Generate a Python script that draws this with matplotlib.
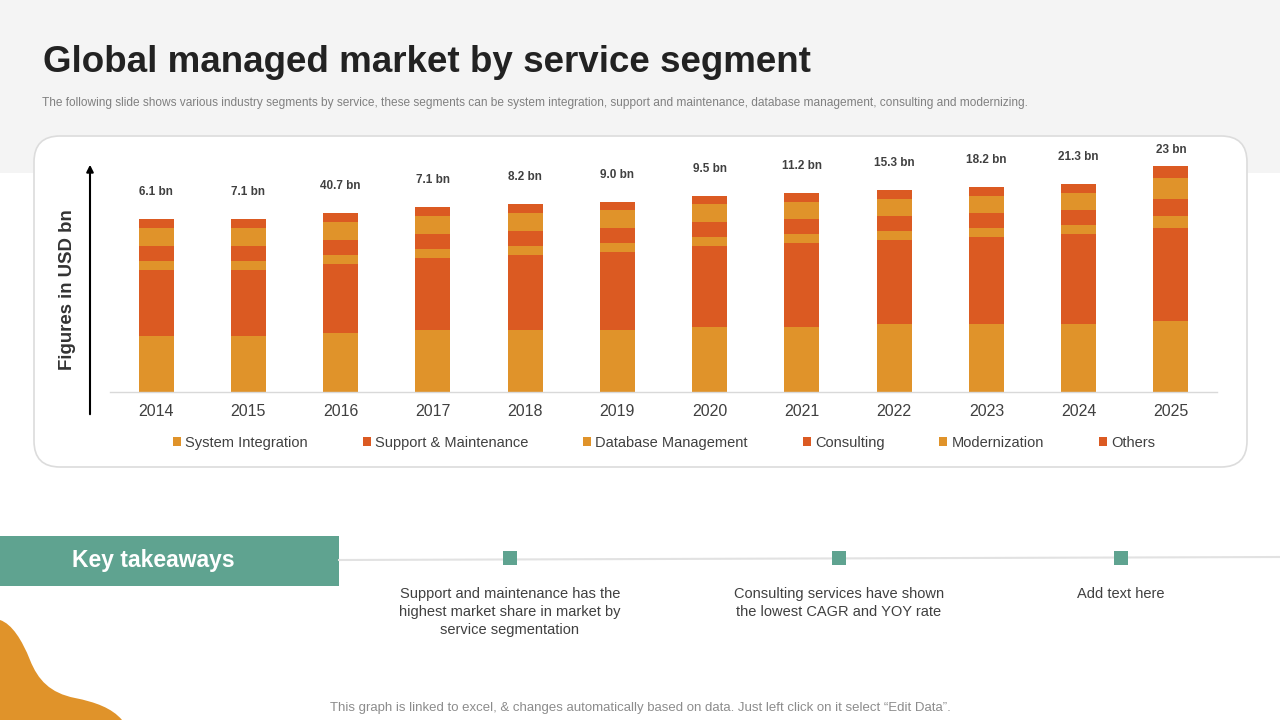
import numpy as np
import matplotlib
matplotlib.use("Agg")
import matplotlib.pyplot as plt
from matplotlib.patches import Rectangle, FancyBboxPatch, PathPatch
from matplotlib.path import Path

plt.rcParams['font.family'] = ['Liberation Sans', 'DejaVu Sans']

# data (segment heights)
years = ['2014', '2015', '2016', '2017', '2018', '2019',
         '2020', '2021', '2022', '2023', '2024', '2025']
system_integration = [5.6, 5.6, 5.9, 6.2, 6.2, 6.2, 6.5, 6.5, 6.8, 6.8, 6.8, 7.1]
support_maintenance = [6.6, 6.6, 6.9, 7.2, 7.5, 7.8, 8.1, 8.4, 8.4, 8.7, 9.0, 9.3]
database_mgmt = [0.9, 0.9, 0.9, 0.9, 0.9, 0.9, 0.9, 0.9, 0.9, 0.9, 0.9, 1.2]
consulting = [1.5, 1.5, 1.5, 1.5, 1.5, 1.5, 1.5, 1.5, 1.5, 1.5, 1.5, 1.7]
modernization = [1.8, 1.8, 1.8, 1.8, 1.8, 1.8, 1.8, 1.7, 1.7, 1.7, 1.7, 2.1]
others = [0.9, 0.9, 0.9, 0.9, 0.9, 0.8, 0.8, 0.9, 0.9, 0.9, 0.9, 1.2]
total_labels = ['6.1 bn', '7.1 bn', '40.7 bn', '7.1 bn', '8.2 bn', '9.0 bn',
                '9.5 bn', '11.2 bn', '15.3 bn', '18.2 bn', '21.3 bn', '23 bn']
segment_names = ['System Integration', 'Support & Maintenance', 'Database Management',
                 'Consulting', 'Modernization', 'Others']
takeaways = ['Support and maintenance has the\nhighest market share in market by\nservice segmentation',
             'Consulting services have shown\nthe lowest CAGR and YOY rate',
             'Add text here']

LIGHT = '#E0932A'
DARK = '#DB5A22'
TEAL = '#5FA390'
TXT = '#404040'

W, H = 1280, 720
fig = plt.figure(figsize=(12.8, 7.2), dpi=100)
fig.patch.set_facecolor('white')

# background layer in pixel coordinates
bg = fig.add_axes([0, 0, 1, 1], zorder=0)
bg.set_xlim(0, W)
bg.set_ylim(H, 0)
bg.axis('off')

bg.add_patch(Rectangle((0, 0), W, 173, color='#f4f4f4', lw=0))
bg.add_patch(FancyBboxPatch((34, 136), 1213, 331,
                            boxstyle='round,pad=0,rounding_size=26',
                            fc='white', ec='#dcdcdc', lw=1.2))

bg.text(43, 62, 'Global managed market by service segment', fontsize=26.5,
        fontweight='bold', color='#222222', va='center', ha='left')
bg.text(42, 103, 'The following slide shows various industry segments by service, these segments '
        'can be system integration, support and maintenance, database management, consulting '
        'and modernizing.', fontsize=8.6, color='#808080', va='center', ha='left')

# y axis arrow + label
bg.annotate('', xy=(90, 162), xytext=(90, 417),
            arrowprops=dict(arrowstyle='-|>', color='black', lw=1.5, mutation_scale=10))
bg.text(67, 290, 'Figures in USD bn', rotation=90, fontsize=13.4, fontweight='bold',
        color='#333333', ha='center', va='center')

# key takeaways strip
bg.add_patch(Rectangle((0, 536), 339, 50, color=TEAL, lw=0))
bg.text(72, 561, 'Key takeaways', fontsize=16.5, fontweight='bold', color='white',
        ha='left', va='center')
bg.plot([339, W], [560, 557], color='#e2e2e2', lw=1.5, zorder=1)
for cx, txt in zip([510, 839, 1121], takeaways):
    bg.add_patch(Rectangle((cx - 7, 551), 14, 14, color=TEAL, lw=0, zorder=2))
    bg.text(cx, 587, txt, fontsize=10.5, color=TXT, ha='center', va='top', linespacing=1.38)

# orange blob bottom-left
verts = [(0, 620), (12, 624), (22, 640), (30, 660),
         (38, 680), (50, 693), (75, 698),
         (95, 702), (112, 708), (122, 720),
         (0, 720), (0, 620)]
codes = [Path.MOVETO, Path.CURVE4, Path.CURVE4, Path.CURVE4,
         Path.CURVE4, Path.CURVE4, Path.CURVE4,
         Path.CURVE4, Path.CURVE4, Path.CURVE4,
         Path.LINETO, Path.CLOSEPOLY]
bg.add_patch(PathPatch(Path(verts, codes), fc=LIGHT, ec='none'))

bg.text(640, 708, 'This graph is linked to excel, & changes automatically based on data. '
        'Just left click on it select \u201cEdit Data\u201d.', fontsize=9.5, color='#8c8c8c',
        ha='center', va='center')

# chart
ax = fig.add_axes([110 / W, 1 - 392 / H, (1217 - 110) / W, 252 / H], zorder=1)
ax.patch.set_alpha(0)
x = np.arange(len(years))
series = [system_integration, support_maintenance, database_mgmt,
          consulting, modernization, others]
colors = [LIGHT, DARK, LIGHT, DARK, LIGHT, DARK]
bottom = np.zeros(len(years))
handles = []
for vals, c, name in zip(series, colors, segment_names):
    b = ax.bar(x, vals, 0.38, bottom=bottom, color=c, label=name, lw=0)
    handles.append(b)
    bottom += np.array(vals)

ax.set_xlim(-0.5, len(years) - 0.5)
ax.set_ylim(0, 25.2)
for xi, tot, lab in zip(x, bottom, total_labels):
    ax.text(xi, min(tot + 2.7, 24.2), lab, ha='center', va='center',
            fontsize=8.5, fontweight='bold', color=TXT)

ax.set_xticks(x)
ax.set_xticklabels(years, fontsize=11.5, color=TXT)
ax.tick_params(axis='x', length=0, pad=9)
ax.set_yticks([])
for s in ['left', 'right', 'top']:
    ax.spines[s].set_visible(False)
ax.spines['bottom'].set_color('#d9d9d9')
ax.spines['bottom'].set_linewidth(1)

ax.legend(handles=handles, loc='center', ncol=6, frameon=False,
          bbox_to_anchor=(664 / W, 1 - 443 / H), bbox_transform=fig.transFigure,
          fontsize=10.5, handlelength=0.55, handleheight=0.55, handletextpad=0.3,
          columnspacing=3.75, labelcolor=TXT)

fig.savefig('out.png', dpi=100, facecolor='white')
